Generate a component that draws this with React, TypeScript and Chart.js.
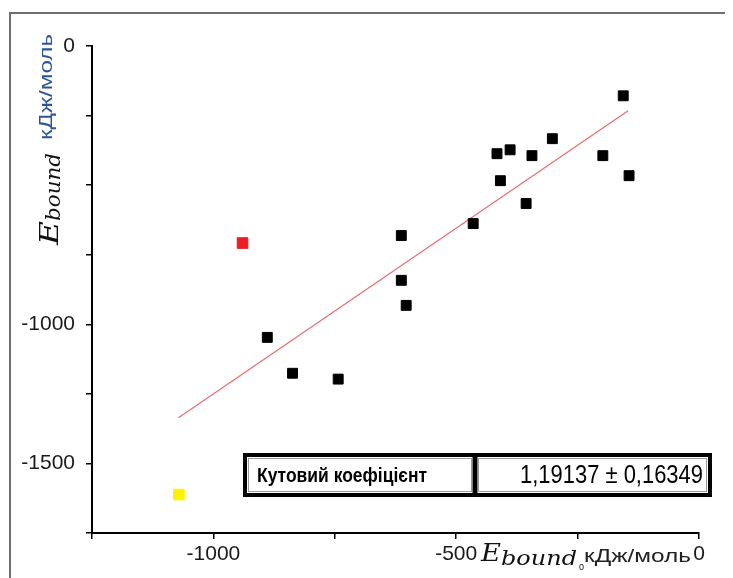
import React, { useEffect, useRef } from "react";
import { Chart, registerables } from "chart.js";

Chart.register(...registerables);

// ---- data ----
const blackX = [-156, -302, -416, -389, -344, -198, -409, -144, -356, -465, -613, -613, -603, -889, -837, -743];
const blackY = [-179, -333, -387, -373, -394, -394, -484, -466, -566, -638, -681, -842, -932, -1047, -1176, -1197];
const redX = [-940];
const redY = [-708];
const yellowX = [-1071];
const yellowY = [-1612];
const fitX = [-1072, -146];
const fitY = [-1336, -233];
const xRange = [-1250, 0];
const yRange = [-1750, 0];
const tickStep = 250;
const xTickLabels = [-1000, -500, 0];
const yTickLabels = [0, -1000, -1500];
const tableLabel = "Кутовий коефіцієнт";
const tableValue = "1,19137 ± 0,16349";
const unitText = "кДж/моль";
const symbolMain = "E";
const symbolSub = "bound";
const symbolSub0 = "0";

const zip = (xs: number[], ys: number[]) => xs.map((x, i) => ({ x, y: ys[i] }));

const drawScaled = (ctx: CanvasRenderingContext2D, text: string, x: number, y: number, width: number) => {
  const w = ctx.measureText(text).width;
  ctx.save();
  ctx.translate(x, y);
  ctx.scale(width / w, 1);
  ctx.fillText(text, 0, 0);
  ctx.restore();
};

const decorPlugin = {
  id: "decor",
  afterDraw(chart: any) {
    const ctx: CanvasRenderingContext2D = chart.ctx;
    ctx.save();
    // outer frame
    ctx.strokeStyle = "#6e6e6e";
    ctx.lineWidth = 2;
    ctx.strokeRect(2, 5, 2000, 2000);

    // ---- table ----
    const tx = 237, ty = 447, tw = 465, th = 40, div = 467;
    ctx.fillStyle = "#fff";
    ctx.fillRect(tx, ty, tw, th);
    ctx.strokeStyle = "#000";
    ctx.lineWidth = 4;
    ctx.strokeRect(tx, ty, tw, th);
    ctx.lineWidth = 5;
    ctx.beginPath();
    ctx.moveTo(div, ty);
    ctx.lineTo(div, ty + th);
    ctx.stroke();
    ctx.strokeStyle = "#9a9a9a";
    ctx.lineWidth = 1;
    ctx.strokeRect(tx + 3.5, ty + 3.5, div - tx - 7, th - 7);
    ctx.strokeRect(div + 3.5, ty + 3.5, tx + tw - div - 7, th - 7);

    ctx.fillStyle = "#000";
    ctx.textBaseline = "middle";
    ctx.textAlign = "left";
    ctx.font = "bold 20px 'Liberation Sans', Arial, sans-serif";
    drawScaled(ctx, tableLabel, 249, ty + th / 2 + 1, 170);
    ctx.font = "25px 'Liberation Sans', Arial, sans-serif";
    drawScaled(ctx, tableValue, 512, ty + th / 2 + 1, 183);

    // ---- x axis title ----
    ctx.textBaseline = "alphabetic";
    ctx.fillStyle = "#111";
    ctx.font = "italic 25px 'DejaVu Serif', 'Liberation Serif', serif";
    drawScaled(ctx, symbolMain, 473, 553, 20);
    ctx.font = "italic 20px 'DejaVu Serif', 'Liberation Serif', serif";
    drawScaled(ctx, symbolSub, 493, 557, 76);
    ctx.font = "9px 'Liberation Sans', Arial, sans-serif";
    ctx.fillText(symbolSub0, 571, 562);
    ctx.fillStyle = "#222";
    ctx.font = "19px 'Liberation Sans', Arial, sans-serif";
    drawScaled(ctx, unitText, 576, 554, 107);

    // ---- y axis title (rotated) ----
    ctx.save();
    ctx.translate(50, 237);
    ctx.rotate(-Math.PI / 2);
    ctx.fillStyle = "#111";
    ctx.font = "italic 26px 'DejaVu Serif', 'Liberation Serif', serif";
    drawScaled(ctx, symbolMain, 0, 0, 24);
    ctx.font = "italic 20px 'DejaVu Serif', 'Liberation Serif', serif";
    drawScaled(ctx, symbolSub, 24, 2, 68);
    ctx.fillStyle = "#2c5596";
    ctx.font = "19px 'Liberation Sans', Arial, sans-serif";
    drawScaled(ctx, unitText, 105, -6, 106);
    ctx.restore();

    ctx.restore();
  },
};

export default function App() {
  const ref = useRef<HTMLCanvasElement | null>(null);
  useEffect(() => {
    if (!ref.current) return;
    const tickFont = { family: "'Liberation Sans', Arial, sans-serif", size: 21 };
    const cb = (list: number[]) => (v: any) => (list.includes(Number(v)) ? String(v) : "");
    const chart = new Chart(ref.current, {
      type: "scatter",
      data: {
        datasets: [
          {
            data: zip(fitX, fitY),
            showLine: true,
            borderColor: "#f06a6a",
            borderWidth: 1.2,
            pointRadius: 0,
            order: 5,
          },
          {
            data: zip(blackX, blackY),
            pointStyle: "rect",
            pointRadius: 7,
            backgroundColor: "#000",
            borderColor: "#000",
            borderWidth: 1,
            order: 1,
          },
          {
            data: zip(redX, redY),
            pointStyle: "rect",
            pointRadius: 7.5,
            backgroundColor: "#ee1c25",
            borderColor: "#ee1c25",
            borderWidth: 1,
            order: 1,
          },
          {
            data: zip(yellowX, yellowY),
            pointStyle: "rect",
            pointRadius: 7.5,
            backgroundColor: "#fff200",
            borderColor: "#fff200",
            borderWidth: 1,
            order: 1,
          },
        ] as any,
      },
      options: {
        animation: false,
        responsive: false,
        events: [],
        layout: { padding: { top: 38, right: 34, left: 0, bottom: 0 } },
        plugins: { legend: { display: false }, tooltip: { enabled: false } },
        scales: {
          x: {
            type: "linear",
            min: xRange[0],
            max: xRange[1],
            ticks: {
              stepSize: tickStep,
              callback: cb(xTickLabels),
              font: tickFont,
              color: "#1a1a1a",
              padding: 3,
              maxRotation: 0,
              autoSkip: false,
            },
            grid: { drawOnChartArea: false, tickLength: 6, color: "#000", lineWidth: 1.5 },
            border: { color: "#000", width: 2 },
            afterFit: (s: any) => {
              s.height = 45;
            },
          },
          y: {
            type: "linear",
            min: yRange[0],
            max: yRange[1],
            ticks: {
              stepSize: tickStep,
              callback: cb(yTickLabels),
              font: tickFont,
              color: "#1a1a1a",
              padding: 11,
              autoSkip: false,
            },
            grid: { drawOnChartArea: false, tickLength: 6, color: "#000", lineWidth: 1.5 },
            border: { color: "#000", width: 2 },
            afterFit: (s: any) => {
              s.width = 84;
            },
          },
        },
      } as any,
      plugins: [decorPlugin],
    });
    return () => chart.destroy();
  }, []);
  return (
    <div style={{ width: 725, height: 570, background: "#fff" }}>
      <canvas ref={ref} width={725} height={570} style={{ display: "block" }} />
    </div>
  );
}
